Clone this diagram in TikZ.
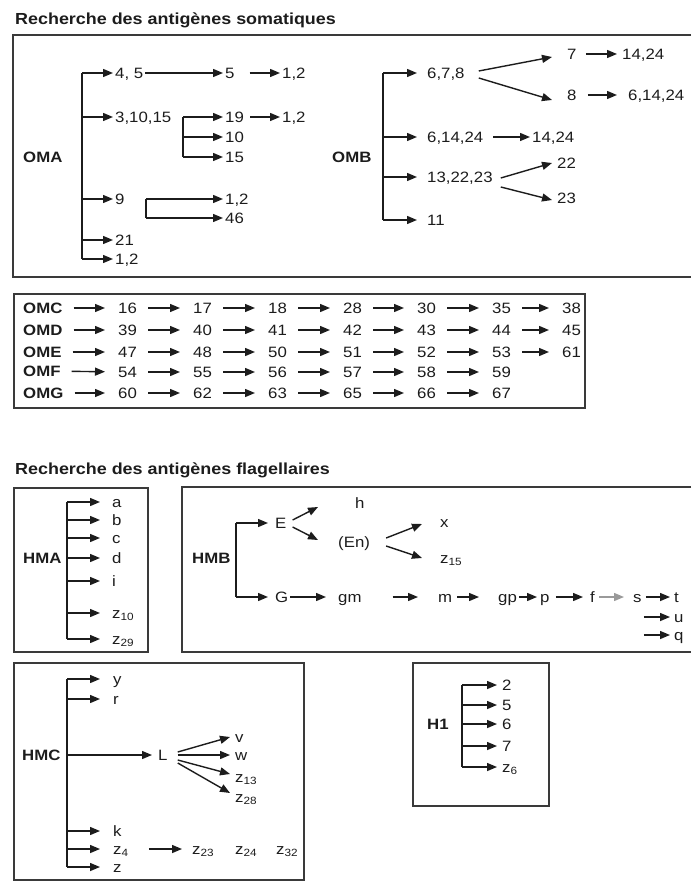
\documentclass[tikz,border=0pt]{standalone}
\usepackage{fontspec}
\setmainfont[FakeStretch=1.12]{Liberation Sans}
\usetikzlibrary{arrows.meta,calc}
\definecolor{inkdark}{HTML}{1C1C1C}
\definecolor{framegray}{HTML}{3A3A3A}
\definecolor{fadegray}{HTML}{9A9A9A}
\newcommand{\labfont}{\fontsize{15}{18}\selectfont}
\newcommand{\headfont}{\fontsize{16}{19}\selectfont}
\tikzset{
  >={Triangle[length=10pt,width=8pt]},
  heading/.style={anchor=base west, inner sep=0pt, font=\headfont\bfseries, text=inkdark},
  sero/.style={anchor=west, inner xsep=2pt, inner ysep=0pt, text height=10.7pt,
    text depth=0pt, font=\labfont\bfseries, text=inkdark},
  antigen/.style={anchor=west, inner xsep=2pt, inner ysep=0pt, text height=10.7pt,
    text depth=0pt, font=\labfont, text=inkdark},
  frame/.style={draw=framegray, line width=1.5pt},
  trunk/.style={draw=inkdark, line width=1.4pt},
  arrow/.style={->, draw=inkdark, line width=1.4pt},
  hop/.style={arrow, shorten <=9pt, shorten >=11pt}
}
\newcommand{\branch}[3][]{\draw[arrow,#1] (#3.west -| #2) -- (#3.west);}

\begin{document}
\begin{tikzpicture}[x=1pt,y=-1pt]
\useasboundingbox (0,0) rectangle (691,882);

% antigenes somatiques
\node[heading] (somtitle) at (15,25) {Recherche des antigènes somatiques};
\draw[frame] (691,35) -- (13,35) -- (13,277) -- (691,277);

% OMA
\node[sero] (oma) at (21,157) {OMA};
\coordinate (omaT) at (82,73);
\coordinate (omaB) at (82,259);
\draw[trunk] (omaT) -- (omaB);
\node[antigen] (a45) at (113,73) {4, 5};
\node[antigen] (a31015) at (113,117) {3,10,15};
\node[antigen] (a9) at (113,199) {9};
\node[antigen] (a21) at (113,240) {21};
\node[antigen] (a12) at (113,259) {1,2};
\branch{omaT}{a45}
\branch{omaT}{a31015}
\branch{omaT}{a9}
\branch{omaT}{a21}
\branch{omaT}{a12}
\node[antigen] (a5) at (223,73) {5};
\node[antigen] (a5x) at (280,73) {1,2};
\draw[arrow] (a45) -- (a5);
\draw[arrow, shorten <=13pt] (a5) -- (a5x);
\coordinate (s1T) at (183,117);
\coordinate (s1B) at (183,157);
\draw[trunk] (s1T) -- (s1B);
\node[antigen] (a19) at (223,117) {19};
\node[antigen] (a10) at (223,137) {10};
\node[antigen] (a15) at (223,157) {15};
\branch{s1T}{a19}
\branch{s1T}{a10}
\branch{s1T}{a15}
\node[antigen] (a19x) at (280,117) {1,2};
\draw[arrow, shorten <=4pt] (a19) -- (a19x);
\coordinate (s2T) at (146,199);
\coordinate (s2B) at (146,218);
\draw[trunk] (s2T) -- (s2B);
\node[antigen] (a9x) at (223,199) {1,2};
\node[antigen] (a46) at (223,218) {46};
\branch{s2T}{a9x}
\branch{s2T}{a46}

% OMB
\node[sero] (omb) at (330,157) {OMB};
\coordinate (ombT) at (383,73);
\coordinate (ombB) at (383,220);
\draw[trunk] (ombT) -- (ombB);
\node[antigen] (b678) at (425,73) {6,7,8};
\node[antigen] (b61424) at (425,137) {6,14,24};
\node[antigen] (b132223) at (425,177) {13,22,23};
\node[antigen] (b11) at (425,220) {11};
\branch[shorten >=8pt]{ombT}{b678}
\branch[shorten >=8pt]{ombT}{b61424}
\branch[shorten >=8pt]{ombT}{b132223}
\branch[shorten >=8pt]{ombT}{b11}
\node[antigen] (b7) at (565,54) {7};
\node[antigen] (b8) at (565,95) {8};
\draw[arrow] ([shift={(12,-2)}]b678.east) -- ([shift={(-13,3)}]b7.west);
\draw[arrow] ([shift={(12,5)}]b678.east) -- ([shift={(-13,5)}]b8.west);
\node[antigen] (b7x) at (620,54) {14,24};
\node[antigen] (b8x) at (626,95) {6,14,24};
\draw[arrow, shorten <=7pt, shorten >=3pt] (b7) -- (b7x);
\draw[arrow, shorten <=9pt, shorten >=9pt] (b8) -- (b8x);
\node[antigen] (b61424x) at (530,137) {14,24};
\draw[arrow, shorten <=8pt] (b61424) -- (b61424x);
\node[antigen] (b22) at (555,163) {22};
\node[antigen] (b23) at (555,198) {23};
\draw[arrow] ([shift={(6,1)}]b132223.east) -- ([shift={(-3,0)}]b22.west);
\draw[arrow] ([shift={(6,10)}]b132223.east) -- ([shift={(-3,2)}]b23.west);

% OMC a OMG
\draw[frame] (14,294) rectangle (585,408);
\node[sero] (omc) at (21,308) {OMC};
\node[antigen] (c1) at (116,308) {16}; \node[antigen] (c2) at (191,308) {17};
\node[antigen] (c3) at (266,308) {18}; \node[antigen] (c4) at (341,308) {28};
\node[antigen] (c5) at (415,308) {30}; \node[antigen] (c6) at (490,308) {35};
\node[antigen] (c7) at (560,308) {38};
\path (omc) edge[hop] (c1) (c1) edge[hop] (c2) (c2) edge[hop] (c3) (c3) edge[hop] (c4)
  (c4) edge[hop] (c5) (c5) edge[hop] (c6) (c6) edge[hop] (c7);
\node[sero] (omd) at (21,330) {OMD};
\node[antigen] (d1) at (116,330) {39}; \node[antigen] (d2) at (191,330) {40};
\node[antigen] (d3) at (266,330) {41}; \node[antigen] (d4) at (341,330) {42};
\node[antigen] (d5) at (415,330) {43}; \node[antigen] (d6) at (490,330) {44};
\node[antigen] (d7) at (560,330) {45};
\path (omd) edge[hop] (d1) (d1) edge[hop] (d2) (d2) edge[hop] (d3) (d3) edge[hop] (d4)
  (d4) edge[hop] (d5) (d5) edge[hop] (d6) (d6) edge[hop] (d7);
\node[sero] (ome) at (21,352) {OME};
\node[antigen] (e1) at (116,352) {47}; \node[antigen] (e2) at (191,352) {48};
\node[antigen] (e3) at (266,352) {50}; \node[antigen] (e4) at (341,352) {51};
\node[antigen] (e5) at (415,352) {52}; \node[antigen] (e6) at (490,352) {53};
\node[antigen] (e7) at (560,352) {61};
\path (ome) edge[hop] (e1) (e1) edge[hop] (e2) (e2) edge[hop] (e3) (e3) edge[hop] (e4)
  (e4) edge[hop] (e5) (e5) edge[hop] (e6) (e6) edge[hop] (e7);
\node[sero] (omf) at (21,371) {OMF};
\node[antigen] (f1) at (116,372) {54}; \node[antigen] (f2) at (191,372) {55};
\node[antigen] (f3) at (266,372) {56}; \node[antigen] (f4) at (341,372) {57};
\node[antigen] (f5) at (415,372) {58}; \node[antigen] (f6) at (490,372) {59};
\path (omf) edge[hop] (f1) (f1) edge[hop] (f2) (f2) edge[hop] (f3) (f3) edge[hop] (f4)
  (f4) edge[hop] (f5) (f5) edge[hop] (f6);
\node[sero] (omg) at (21,393) {OMG};
\node[antigen] (g1) at (116,393) {60}; \node[antigen] (g2) at (191,393) {62};
\node[antigen] (g3) at (266,393) {63}; \node[antigen] (g4) at (341,393) {65};
\node[antigen] (g5) at (415,393) {66}; \node[antigen] (g6) at (490,393) {67};
\path (omg) edge[hop] (g1) (g1) edge[hop] (g2) (g2) edge[hop] (g3) (g3) edge[hop] (g4)
  (g4) edge[hop] (g5) (g5) edge[hop] (g6);

% antigenes flagellaires
\node[heading] (flatitle) at (15,474) {Recherche des antigènes flagellaires};

% HMA
\draw[frame] (14,488) rectangle (148,652);
\node[sero] (hma) at (21,558) {HMA};
\coordinate (hmaT) at (67,502);
\coordinate (hmaB) at (67,639);
\draw[trunk] (hmaT) -- (hmaB);
\node[antigen] (ha) at (110,502) {a};
\node[antigen] (hb) at (110,520) {b};
\node[antigen] (hc) at (110,538) {c};
\node[antigen] (hd) at (110,558) {d};
\node[antigen] (hi) at (110,581) {i};
\node[antigen] (hz10) at (110,613) {z\textsubscript{10}};
\node[antigen] (hz29) at (110,639) {z\textsubscript{29}};
\branch[shorten >=10pt]{hmaT}{ha}
\branch[shorten >=10pt]{hmaT}{hb}
\branch[shorten >=10pt]{hmaT}{hc}
\branch[shorten >=10pt]{hmaT}{hd}
\branch[shorten >=10pt]{hmaT}{hi}
\branch[shorten >=10pt]{hmaT}{hz10}
\branch[shorten >=10pt]{hmaT}{hz29}

% HMB
\draw[frame] (691,487) -- (182,487) -- (182,652) -- (691,652);
\node[sero] (hmb) at (190,558) {HMB};
\coordinate (hmbT) at (236,523);
\coordinate (hmbB) at (236,597);
\draw[trunk] (hmbT) -- (hmbB);
\node[antigen] (hE) at (273,523) {E};
\node[antigen] (hG) at (273,597) {G};
\branch[shorten >=5pt]{hmbT}{hE}
\branch[shorten >=5pt]{hmbT}{hG}
\node[antigen] (hh) at (353,503) {h};
\node[antigen] (hEn) at (336,542) {(En)};
\draw[arrow] ([shift={(4,-3)}]hE.east) -- ([shift={(-35,4)}]hh.west);
\draw[arrow] ([shift={(4,4)}]hE.east) -- ([shift={(-18,-2)}]hEn.west);
\node[antigen] (hx) at (438,522) {x};
\node[antigen] (hz15) at (438,558) {z\textsubscript{15}};
\draw[arrow] ([shift={(14,-4)}]hEn.east) -- ([shift={(-16,2)}]hx.west);
\draw[arrow] ([shift={(14,4)}]hEn.east) -- ([shift={(-16,0)}]hz15.west);
\node[antigen] (hgm) at (336,597) {gm};
\node[antigen] (hm) at (436,597) {m};
\node[antigen] (hgp) at (496,597) {gp};
\node[antigen] (hp) at (538,597) {p};
\node[antigen] (hf) at (588,597) {f};
\node[antigen] (hs) at (631,597) {s};
\node[antigen] (ht) at (672,597) {t};
\node[antigen] (hu) at (672,617) {u};
\node[antigen] (hq) at (672,635) {q};
\draw[arrow, shorten >=10pt] (hG) -- (hgm);
\draw[arrow, shorten <=29pt, shorten >=18pt] (hgm) -- (hm);
\draw[arrow, shorten <=3pt, shorten >=17pt] (hm) -- (hgp);
\draw[arrow, shorten >=1pt] (hgp) -- (hp);
\draw[arrow, shorten <=4pt, shorten >=5pt] (hp) -- (hf);
\draw[arrow, draw=fadegray, shorten <=2pt, shorten >=7pt] (hf) -- (hs);
\draw[arrow, shorten <=2pt, shorten >=2pt] (hs) -- (ht);
\draw[arrow, shorten >=2pt] (hu.west -| hs.east) -- (hu.west);
\draw[arrow, shorten >=2pt] (hq.west -| hs.east) -- (hq.west);

% HMC
\draw[frame] (14,663) rectangle (304,880);
\node[sero] (hmc) at (20,755) {HMC};
\coordinate (hmcT) at (67,679);
\coordinate (hmcB) at (67,867);
\draw[trunk] (hmcT) -- (hmcB);
\node[antigen] (cy) at (111,679) {y};
\node[antigen] (cr) at (111,699) {r};
\node[antigen] (cL) at (156,755) {L};
\node[antigen] (ck) at (111,831) {k};
\node[antigen] (cz4) at (111,849) {z\textsubscript{4}};
\node[antigen] (cz) at (111,867) {z};
\branch[shorten >=11pt]{hmcT}{cy}
\branch[shorten >=11pt]{hmcT}{cr}
\branch[shorten >=4pt]{hmcT}{cL}
\branch[shorten >=11pt]{hmcT}{ck}
\branch[shorten >=11pt]{hmcT}{cz4}
\branch[shorten >=11pt]{hmcT}{cz}
\node[antigen] (cv) at (233,737) {v};
\node[antigen] (cw) at (233,755) {w};
\node[antigen] (cz13) at (233,777) {z\textsubscript{13}};
\node[antigen] (cz28) at (233,797) {z\textsubscript{28}};
\draw[arrow] ([shift={(8,-3)}]cL.east) -- ([shift={(-3,0)}]cv.west);
\draw[arrow] ([shift={(8,0)}]cL.east) -- ([shift={(-3,0)}]cw.west);
\draw[arrow] ([shift={(8,5)}]cL.east) -- ([shift={(-3,-3)}]cz13.west);
\draw[arrow] ([shift={(8,8)}]cL.east) -- ([shift={(-3,-4)}]cz28.west);
\node[antigen] (cz23) at (190,849) {z\textsubscript{23}};
\node[antigen] (cz24) at (233,849) {z\textsubscript{24}};
\node[antigen] (cz32) at (274,849) {z\textsubscript{32}};
\draw[arrow, shorten <=18pt, shorten >=8pt] (cz4) -- (cz23);

% H1
\draw[frame] (413,663) rectangle (549,806);
\node[sero] (h1) at (425,724) {H1};
\coordinate (h1T) at (462,685);
\coordinate (h1B) at (462,767);
\draw[trunk] (h1T) -- (h1B);
\node[antigen] (n2) at (500,685) {2};
\node[antigen] (n5) at (500,705) {5};
\node[antigen] (n6) at (500,724) {6};
\node[antigen] (n7) at (500,746) {7};
\node[antigen] (nz6) at (500,767) {z\textsubscript{6}};
\branch[shorten >=3pt]{h1T}{n2}
\branch[shorten >=3pt]{h1T}{n5}
\branch[shorten >=3pt]{h1T}{n6}
\branch[shorten >=3pt]{h1T}{n7}
\branch[shorten >=3pt]{h1T}{nz6}
\end{tikzpicture}
\end{document}
